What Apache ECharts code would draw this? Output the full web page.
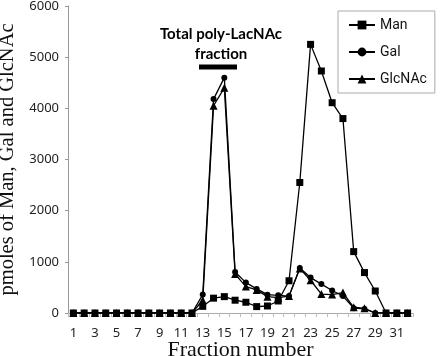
<!DOCTYPE html>
<html><head><meta charset="utf-8">
<script src="https://cdn.jsdelivr.net/npm/echarts@6/dist/echarts.min.js"></script>
<style>html,body{margin:0;padding:0;background:#fff}#c{width:440px;height:356px}</style>
</head><body><div id="c"></div>
<script>
const fractions = ["1","2","3","4","5","6","7","8","9","10","11","12","13","14","15","16","17","18","19","20","21","22","23","24","25","26","27","28","29","30","31","32"];
const manValues =    [0,0,0,0,0,0,0,0,0,0,0,0,130,290,320,250,210,125,137,235,630,2550,5250,4730,4110,3800,1200,790,430,0,0,0];
const galValues =    [0,0,0,0,0,0,0,0,0,0,0,0,360,4180,4600,800,594,471,359,346,330,880,692,565,440,333,95,80,0,0,0,0];
const glcnacValues = [0,0,0,0,0,0,0,0,0,0,0,0,250,4050,4400,760,516,451,320,300,330,870,640,370,360,400,112,92,0,0,0,0];
const yTicks = {min:0, max:6000, interval:1000};

const chart = echarts.init(document.getElementById('c'));
const lineStyle = {color:'#000', width:1.3};
function mk(name, data, symbol, size){
  return {name, type:'line', data, symbol, symbolSize:size, showSymbol:true, showAllSymbol:true,
    lineStyle, itemStyle:{color:'#000'}, animation:false, z: 3};
}
chart.setOption({
  animation:false,
  grid:{left:68, right:27, top:6, bottom:43, containLabel:false, outerBoundsMode:'none'},
  legend:{
    orient:'vertical', left:338, top:11, width:94,
    padding:[7,8,7,10], itemGap:13, itemWidth:26, itemHeight:11,
    borderColor:'#aaa', borderWidth:1, backgroundColor:'#fff',
    textStyle:{fontFamily:'Roboto', fontSize:14, color:'#111'},
    data:['Man','Gal','GlcNAc']
  },
  xAxis:{
    type:'category', data:fractions, boundaryGap:true,
    name:'Fraction number', nameLocation:'middle', nameGap:26, nameMoveOverlap:false,
    nameTextStyle:{fontFamily:'Liberation Serif', fontSize:22, color:'#111'},
    axisLine:{lineStyle:{color:'#aaa'}},
    axisTick:{show:true, interval:0, length:4, lineStyle:{color:'#bbb'}},
    axisLabel:{interval:1, fontFamily:'Noto Sans', fontSize:13, color:'#222', margin:14}
  },
  yAxis:{
    type:'value', min:yTicks.min, max:yTicks.max, interval:yTicks.interval,
    name:'pmoles of Man, Gal and GlcNAc', nameLocation:'middle', nameGap:50, nameMoveOverlap:false,
    nameTextStyle:{fontFamily:'Liberation Serif', fontSize:20.5, color:'#111'},
    splitLine:{show:false},
    axisLine:{show:true, lineStyle:{color:'#999'}},
    axisTick:{show:true, length:3, lineStyle:{color:'#999'}},
    axisLabel:{fontFamily:'Noto Sans', fontSize:13, color:'#222', margin:9, formatter:v=>String(v)}
  },
  series:[
    mk('Man', manValues, 'rect', 7),
    mk('Gal', galValues, 'circle', 6),
    mk('GlcNAc', glcnacValues, 'triangle', 8)
  ],
  graphic:[
    {type:'text', silent:true,
     x:221, y:24, style:{text:'Total poly-LacNAc\nfraction', fontFamily:'Lato', fontWeight:'bold', fontSize:15, fill:'#000', align:'center', verticalAlign:'top', lineHeight:20}},
    {type:'rect', shape:{x:199, y:64.5, width:38, height:5}, style:{fill:'#000'}}
  ]
});
</script></body></html>
